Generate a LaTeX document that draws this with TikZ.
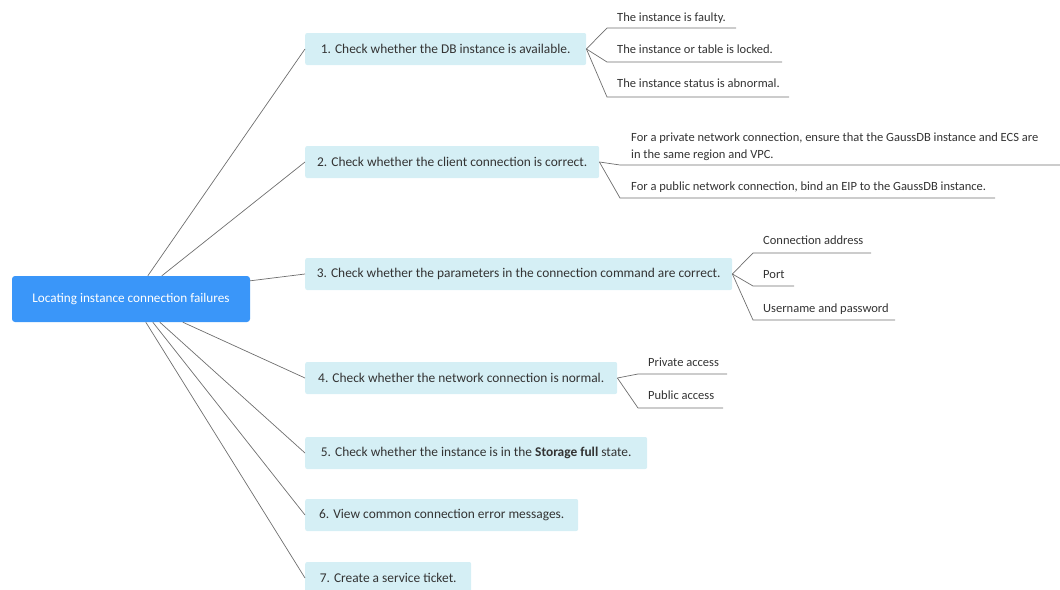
\documentclass[tikz,border=0pt]{standalone}
\usepackage{fontspec}
\setmainfont{Carlito}
\usetikzlibrary{calc}
\definecolor{rootblue}{HTML}{3A96F9}
\definecolor{boxcyan}{HTML}{D5EFF5}
\definecolor{linegray}{HTML}{6E6E6E}
\definecolor{txt}{HTML}{333333}
\tikzset{
  rootbox/.style={fill=rootblue, rounded corners=3pt, text=white, font=\fontsize{13.2}{15}\selectfont, minimum width=238pt, minimum height=46pt, inner sep=0pt},
  stepbox/.style={fill=boxcyan, rounded corners=2pt, text=txt, font=\fontsize{13.4}{15}\selectfont, minimum height=32pt, inner sep=0pt, anchor=west},
  leaf/.style={text=txt, font=\fontsize{12.5}{17}\selectfont, inner sep=0pt, anchor=base west, align=left},
  conn/.style={draw=linegray, line width=0.7pt},
}
\begin{document}
\begin{tikzpicture}[x=1pt,y=-1pt]
\useasboundingbox (0,0) rectangle (1060,589);
% root
\node[rootbox] (root) at (131,299) {Locating instance connection failures};
% steps
\node[stepbox, minimum width=281pt] (b1) at (305,49) {1. Check whether the DB instance is available.};
\node[stepbox, minimum width=294pt] (b2) at (305,162) {2. Check whether the client connection is correct.};
\node[stepbox, minimum width=427pt] (b3) at (305,274) {3. Check whether the parameters in the connection command are correct.};
\node[stepbox, minimum width=312pt] (b4) at (305,378) {4. Check whether the network connection is normal.};
\node[stepbox, minimum width=342pt] (b5) at (305,453) {5. Check whether the instance is in the \textbf{Storage full} state.};
\node[stepbox, minimum width=273pt] (b6) at (305,515) {6. View common connection error messages.};
\node[stepbox, minimum width=166pt] (b7) at (305,578) {7. Create a service ticket.};
% root connectors
\draw[conn] ($(root.north west)+(136,0)$) -- (b1.west);
\draw[conn] ($(root.north west)+(150,0)$) -- (b2.west);
\draw[conn] ($(root.north east)+(0,5)$) -- (b3.west);
\draw[conn] ($(root.south west)+(171,0)$) -- (b4.west);
\draw[conn] ($(root.south west)+(148,0)$) -- (b5.west);
\draw[conn] ($(root.south west)+(141,0)$) -- (b6.west);
\draw[conn] ($(root.south west)+(134,0)$) -- (b7.west);
% leaves of step 1
\node[leaf] (l11) at (617,21) {The instance is faulty.};
\node[leaf] (l12) at (617,53) {The instance or table is locked.};
\node[leaf] (l13) at (617,87) {The instance status is abnormal.};
\coordinate (u11a) at (607,28); \coordinate (u11b) at (736,28);
\coordinate (u12a) at (607,62); \coordinate (u12b) at (782,62);
\coordinate (u13a) at (607,97); \coordinate (u13b) at (789,97);
\draw[conn] (b1.east) -- (u11a) -- (u11b);
\draw[conn] (b1.east) -- (u12a) -- (u12b);
\draw[conn] (b1.east) -- (u13a) -- (u13b);
% leaves of step 2
\node[leaf] (l21) at (631,158) {For a private network connection, ensure that the GaussDB instance and ECS are\\in the same region and VPC.};
\node[leaf] (l22) at (631,190) {For a public network connection, bind an EIP to the GaussDB instance.};
\coordinate (u21a) at (620,165); \coordinate (u21b) at (1060,165);
\coordinate (u22a) at (620,198); \coordinate (u22b) at (995,198);
\draw[conn] (b2.east) -- (u21a) -- (u21b);
\draw[conn] (b2.east) -- (u22a) -- (u22b);
% leaves of step 3
\node[leaf] (l31) at (763,244) {Connection address};
\node[leaf] (l32) at (763,278) {Port};
\node[leaf] (l33) at (763,312) {Username and password};
\coordinate (u31a) at (753,253); \coordinate (u31b) at (871,253);
\coordinate (u32a) at (753,286); \coordinate (u32b) at (794,286);
\coordinate (u33a) at (753,320); \coordinate (u33b) at (895,320);
\draw[conn] (b3.east) -- (u31a) -- (u31b);
\draw[conn] (b3.east) -- (u32a) -- (u32b);
\draw[conn] (b3.east) -- (u33a) -- (u33b);
% leaves of step 4
\node[leaf] (l41) at (648,366) {Private access};
\node[leaf] (l42) at (648,399) {Public access};
\coordinate (u41a) at (638,374); \coordinate (u41b) at (727,374);
\coordinate (u42a) at (638,408); \coordinate (u42b) at (723,408);
\draw[conn] (b4.east) -- (u41a) -- (u41b);
\draw[conn] (b4.east) -- (u42a) -- (u42b);
\end{tikzpicture}
\end{document}
